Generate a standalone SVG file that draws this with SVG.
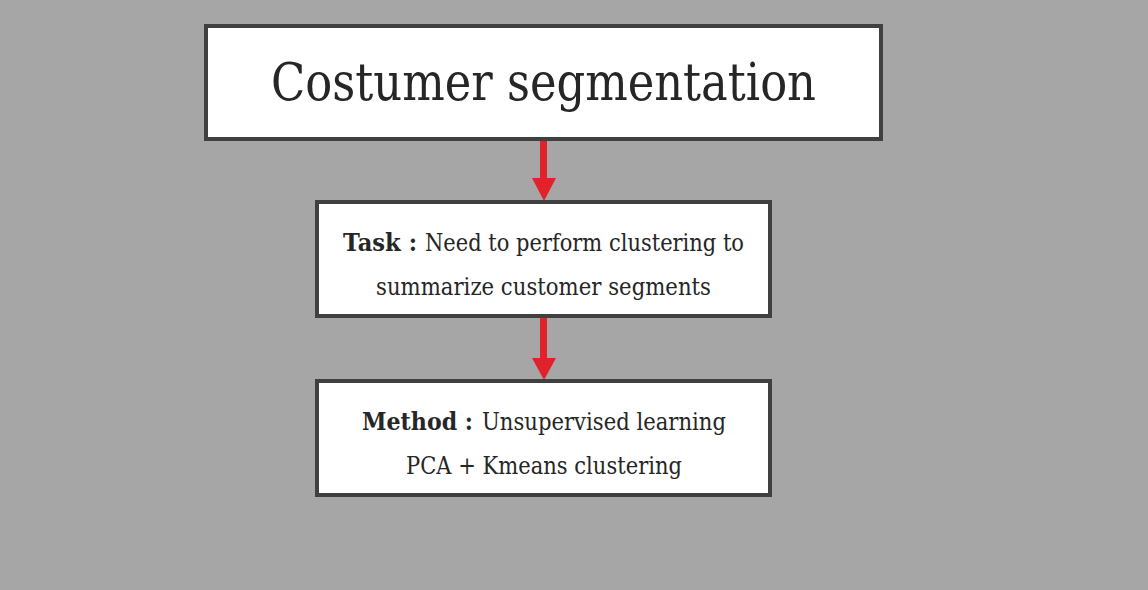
<svg xmlns="http://www.w3.org/2000/svg" width="1148" height="590" viewBox="0 0 1148 590">
<defs>
<style>
.box{fill:#ffffff;stroke:#404040;stroke-width:4}
.t{font-family:"DejaVu Serif","Liberation Serif",serif;fill:#262626;text-anchor:middle}
.s{text-anchor:start}
.b{font-weight:bold}
.sh{fill:#e0222a}
</style>
</defs>
<rect width="1148" height="590" fill="#a6a6a6"/>
<g id="connectors">
<rect class="sh" x="540" y="140" width="7" height="39"/>
<polygon class="sh" points="532,178 556,178 544,201"/>
<rect class="sh" x="540" y="317" width="7" height="42"/>
<polygon class="sh" points="532,358 556,358 544,380"/>
</g>
<g id="node-title">
<rect class="box" x="206" y="26" width="675" height="113"/>
<text class="t" x="543.5" y="100" font-size="52" textLength="545" lengthAdjust="spacingAndGlyphs">Costumer segmentation</text>
</g>
<g id="node-task">
<rect class="box" x="317" y="202" width="453" height="114"/>
<text class="t s b" x="343" y="251" font-size="24.5" textLength="74" lengthAdjust="spacingAndGlyphs">Task :</text>
<text class="t s" x="425" y="251" font-size="24.5" textLength="319" lengthAdjust="spacingAndGlyphs">Need to perform clustering to</text>
<text class="t" x="543.5" y="295" font-size="24.5" textLength="335" lengthAdjust="spacingAndGlyphs">summarize customer segments</text>
</g>
<g id="node-method">
<rect class="box" x="317" y="381" width="453" height="114"/>
<text class="t s b" x="362" y="430" font-size="24.5" textLength="111" lengthAdjust="spacingAndGlyphs">Method :</text>
<text class="t s" x="482" y="430" font-size="24.5" textLength="244" lengthAdjust="spacingAndGlyphs">Unsupervised learning</text>
<text class="t" x="544" y="474" font-size="24.5" textLength="276" lengthAdjust="spacingAndGlyphs">PCA + Kmeans clustering</text>
</g>
</svg>
